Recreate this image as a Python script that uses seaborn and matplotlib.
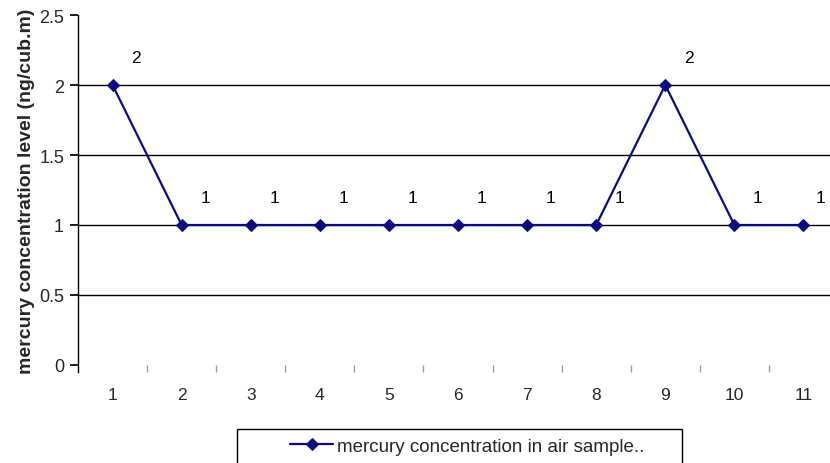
import matplotlib
matplotlib.use("Agg")
import matplotlib.pyplot as plt
from matplotlib.patches import Rectangle
import numpy as np
import pandas as pd
import seaborn as sns

samples = [1, 2, 3, 4, 5, 6, 7, 8, 9, 10, 11]
mercury = [2, 1, 1, 1, 1, 1, 1, 1, 2, 1, 1]
yticks = [0, 0.5, 1, 1.5, 2, 2.5]

df = pd.DataFrame({"sample": samples, "mercury": mercury})
df["pos"] = np.arange(len(df))

sns.set_theme(style="white")
plt.rcParams['font.family'] = ['Liberation Sans', 'DejaVu Sans']

fig = plt.figure(figsize=(8.3, 4.64), dpi=100)
# plot area runs past the right edge, like the cropped original
ax = fig.add_axes([78/830, 1 - 366/464, 760/830, 350/464])

sns.lineplot(data=df, x="pos", y="mercury", ax=ax, color="#0b0b80",
             marker="D", markersize=6.5, markeredgecolor="#0b0b80",
             linewidth=1.6, label="mercury concentration in air sample..",
             legend=False)

# data labels, up and to the right of each point
for i, (p, v) in enumerate(zip(df["pos"], df["mercury"])):
    dx = 17 if i < len(df) - 1 else 12
    ax.annotate(str(v), (p, v), xytext=(dx, 19.5), textcoords="offset points",
                fontsize=12.5, color="black", ha="center", va="center")

ax.set_xlim(-0.5, len(df) - 0.5)
ax.set_ylim(0, 2.5)
ax.set_yticks(yticks)
ax.set_yticklabels([f"{t:g}" for t in yticks], fontsize=13)
ax.set_xticks(df["pos"])
ax.set_xticklabels([str(s) for s in samples], fontsize=12.5)
ax.set_xticks(np.arange(0.5, len(df) - 0.5, 1), minor=True)
ax.tick_params(axis="x", which="major", length=0, pad=16)
ax.tick_params(axis="x", which="minor", length=5, color="#999999", direction="out", bottom=True)
ax.tick_params(axis="y", length=6, color="black", direction="out", left=True, pad=4)

for y in yticks[1:-1]:
    ax.axhline(y, color="black", linewidth=1, zorder=0)

for s in ["top", "right", "bottom"]:
    ax.spines[s].set_visible(False)
ax.spines["left"].set_color("black")
ax.spines["left"].set_linewidth(1)
ax.spines["left"].set_bounds(-0.05, 2.5)

ax.set_xlabel("")
ax.set_ylabel("mercury concentration level (ng/cub.m)", fontsize=14,
              fontweight="bold", labelpad=3)

# legend box, cut by the lower edge as in the original
fig.patches.append(Rectangle((237/830, -0.05), 445/830, 0.05 + 34/464,
                             transform=fig.transFigure, fill=False,
                             edgecolor="black", linewidth=1))
handles, labels = ax.get_legend_handles_labels()
leg = fig.legend(handles, labels, loc="center left",
                 bbox_to_anchor=(290/830, 1 - 447/464), fontsize=13.5,
                 frameon=False, borderpad=0, handlelength=2.3,
                 handletextpad=0.2, borderaxespad=0)

fig.savefig("out.png", dpi=100)
